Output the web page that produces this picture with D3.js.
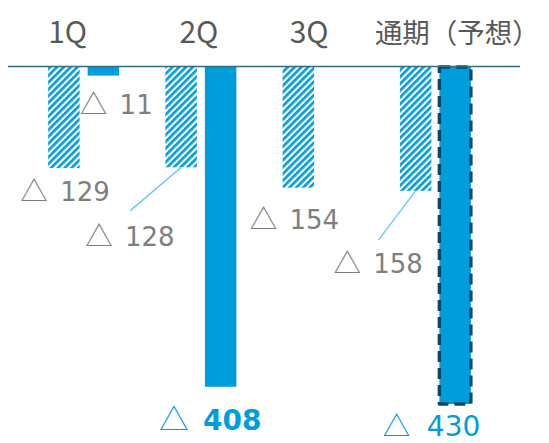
<!DOCTYPE html>
<html>
<head>
<meta charset="utf-8">
<script src="https://cdn.jsdelivr.net/npm/d3@7"></script>
<style>
  html, body { margin: 0; padding: 0; background: #ffffff; }
  svg { display: block; }
</style>
</head>
<body>
<script>
// ---- data ----
const categories = ["1Q", "2Q", "3Q", "通期（予想）"];
const prevValues = [129, 128, 154, 158];      // hatched bars
const currValues = [11, 408, null, 430];      // solid bars
const valuePrefix = "△";

// ---- layout ----
const W = 549, H = 443;
const BLUE = "#009ddb";
const svg = d3.select("body").append("svg").attr("width", W).attr("height", H);

const defs = svg.append("defs");
const P = 4.8;
const pat = defs.append("pattern")
  .attr("id", "hatch").attr("patternUnits", "userSpaceOnUse")
  .attr("width", P).attr("height", P)
  .attr("patternTransform", "rotate(45)");
pat.append("rect").attr("width", P).attr("height", P).attr("fill", "#ffffff");
pat.append("rect").attr("width", P * 0.55).attr("height", P).attr("fill", BLUE);

const x = d3.scaleBand().domain(categories).range([25, 494]);
const xs = d3.scaleBand().domain(["prev", "curr"]).range([-35.5, 35.5]).paddingInner(0.2025);
const y = d3.scaleLinear().domain([0, 430]).range([67, 404]);
const cx = c => x(c) + x.bandwidth() / 2;

const bars = [];
categories.forEach((c, i) => {
  bars.push({ cat: c, key: "prev", i, v: prevValues[i] });
  if (currValues[i] != null) bars.push({ cat: c, key: "curr", i, v: currValues[i] });
});

// category labels
const catNudge = [-16, -2, -9, 22];
svg.append("g").selectAll("text").data(categories).join("text")
  .attr("x", (c, i) => cx(c) + catNudge[i])
  .attr("y", 42.5)
  .attr("text-anchor", "middle")
  .attr("font-family", "'Noto Sans CJK JP', 'Noto Sans', sans-serif")
  .attr("font-size", (c, i) => i === 3 ? 27.5 : 30)
  .attr("fill", "#595959")
  .text(c => c);

// bars
const barG = svg.append("g");
bars.forEach(b => {
  const bx = cx(b.cat) + xs(b.key);
  const r = barG.append("rect")
    .attr("x", bx).attr("y", y(0))
    .attr("width", xs.bandwidth())
    .attr("height", y(b.v) - y(0));
  if (b.key === "prev") r.attr("fill", "url(#hatch)");
  else r.attr("fill", BLUE);
  if (b.key === "curr" && b.i === 3) {
    r.attr("stroke", "#08476a").attr("stroke-width", 3.4)
     .attr("stroke-dasharray", "11,6").attr("stroke-linejoin", "round");
  }
  b.left = bx; b.bottom = y(b.v); b.center = bx + xs.bandwidth() / 2;
});

// axis line (zero line)
svg.append("line")
  .attr("x1", 8).attr("x2", 520).attr("y1", y(0) - 0.5).attr("y2", y(0) - 0.5)
  .attr("stroke", "#2d6d88").attr("stroke-width", 1.6);

// value labels (offsets relative to each bar's left edge / bottom)
const labelPos = {
  "prev-0": { dx: -25.3, dy: 33 },
  "curr-0": { dx: -5.3, dy: 38.6 },
  "prev-1": { dx: -77.7, dy: 78.3, leader: [-50.8, 43.3] },
  "curr-1": { dx: -43.3, dy: 43.3, blue: true, bold: true },
  "prev-2": { dx: -30.4, dy: 41.6 },
  "prev-3": { dx: -64, dy: 82, leader: [-37.2, 49.3] },
  "curr-3": { dx: -54, dy: 31.5, blue: true, tri: 0.98 }
};

const lab = svg.append("g");
bars.forEach(b => {
  const p = labelPos[b.key + "-" + b.i];
  if (!p) return;
  if (p.leader) {
    lab.append("line")
      .attr("x1", b.center + p.leader[0]).attr("y1", b.bottom + p.leader[1])
      .attr("x2", b.center).attr("y2", b.bottom)
      .attr("stroke", "#6fcdf3").attr("stroke-width", 1.5);
  }
  const fs = p.blue ? 28 : 26;
  const col = p.blue ? BLUE : "#7f7f7f";
  const tx = b.left + p.dx, ty = b.bottom + p.dy;
  const t = lab.append("text").attr("y", ty).attr("fill", col);
  t.append("tspan").attr("x", tx - 2.5)
    .attr("font-family", "'Noto Sans CJK JP', sans-serif")
    .attr("font-size", fs * (p.tri || 1.06))
    .text(valuePrefix);
  t.append("tspan").attr("x", tx + (p.blue ? 41.5 : 37.3))
    .attr("font-family", "'DejaVu Sans', Verdana, sans-serif")
    .attr("font-size", fs)
    .attr("font-weight", p.bold ? "bold" : "normal")
    .text(b.v);
});
</script>
</body>
</html>
